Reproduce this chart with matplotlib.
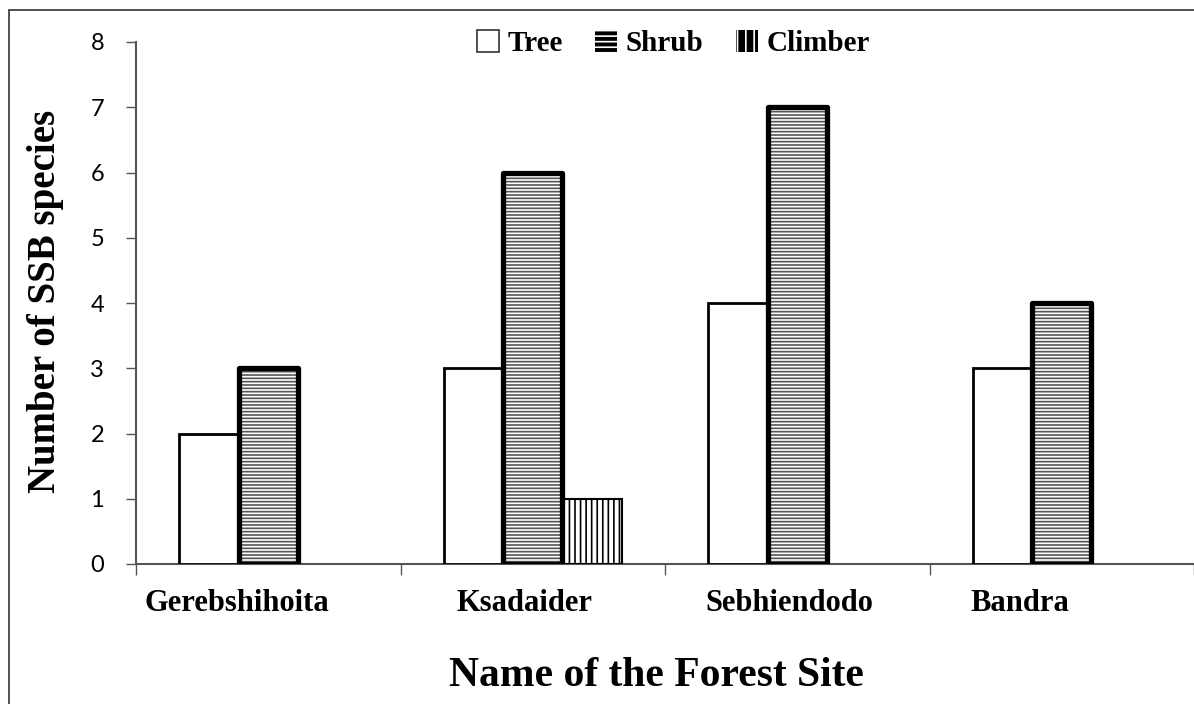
import numpy as np
import matplotlib.pyplot as plt
from matplotlib.patches import Patch, Rectangle

sites = ["Gerebshihoita", "Ksadaider", "Sebhiendodo", "Bandra"]
tree = [2, 3, 4, 3]
shrub = [3, 6, 7, 4]
climber = [0, 1, 0, 0]
y_ticks = [0, 1, 2, 3, 4, 5, 6, 7, 8]

plt.rcParams['hatch.linewidth'] = 1.2
serif = 'Liberation Serif'

fig = plt.figure(figsize=(11.94, 7.04), dpi=100)
ax = fig.add_axes([136/1194, 140/704, 1058/1194, 522/704])

x = np.arange(len(sites))
w = 0.224

ax.bar(x - w, tree, w, facecolor='white', edgecolor='black', linewidth=2, zorder=3)

# shrub: grey line fill then heavy black outline
ax.bar(x, shrub, w, facecolor='white', edgecolor='#555555', hatch='-----', linewidth=0, zorder=3)
ax.bar(x, shrub, w, fill=False, edgecolor='black', linewidth=3.8, joinstyle='round', zorder=4)

cx = [xi + w for xi, c in zip(x, climber) if c > 0]
cv = [c for c in climber if c > 0]
ax.bar(cx, cv, w, facecolor='white', edgecolor='black', hatch='|||', linewidth=1.5, zorder=3)

ax.set_xlim(-0.5, 3.5)
ax.set_ylim(0, 8)
ax.set_yticks(y_ticks)
ax.set_yticklabels([str(v) for v in y_ticks], family='Lato', fontsize=17)
ax.tick_params(axis='y', direction='out', length=7, width=1, color='#555555', pad=16)

ax.set_xticks(np.arange(-0.5, 4.0, 1.0))
ax.set_xticklabels([])
ax.tick_params(axis='x', which='major', direction='out', length=8, width=1, color='#555555')
label_offsets = [-0.12, -0.03, -0.03, -0.16]
ax.set_xticks(x + np.array(label_offsets), minor=True)
ax.set_xticklabels(sites, minor=True, family=serif, fontweight='bold', fontsize=22)
ax.tick_params(axis='x', which='minor', length=0, pad=18)

for s in ['top', 'right']:
    ax.spines[s].set_visible(False)
for s in ['left', 'bottom']:
    ax.spines[s].set_color('#555555')
    ax.spines[s].set_linewidth(1.5)

handles = [
    Patch(facecolor='white', edgecolor='#333333', linewidth=1.2),
    Patch(facecolor='black', edgecolor='white', hatch='---', linewidth=0),
    Patch(facecolor='black', edgecolor='white', hatch='||', linewidth=0),
]
ax.legend(handles, ['Tree', 'Shrub', 'Climber'], loc='center', bbox_to_anchor=(0.508, 0.997),
          ncol=3, frameon=False, prop={'family': serif, 'weight': 'bold', 'size': 21},
          handlelength=0.75, handleheight=0.75, handletextpad=0.3, columnspacing=1.1)

fig.text(656/1194, 1 - 676/704, 'Name of the Forest Site', family=serif, fontweight='bold',
         fontsize=30, ha='center', va='center')
fig.text(46/1194, 1 - 301/704, 'Number of SSB species', family=serif, fontweight='bold',
         fontsize=28, ha='center', va='center', rotation=90)

fig.add_artist(Rectangle((9/1194, -0.1), 2, 1.1 - 10/704, transform=fig.transFigure,
                         fill=False, edgecolor='#333333', linewidth=1.2))

fig.savefig('out.png', dpi=100)
